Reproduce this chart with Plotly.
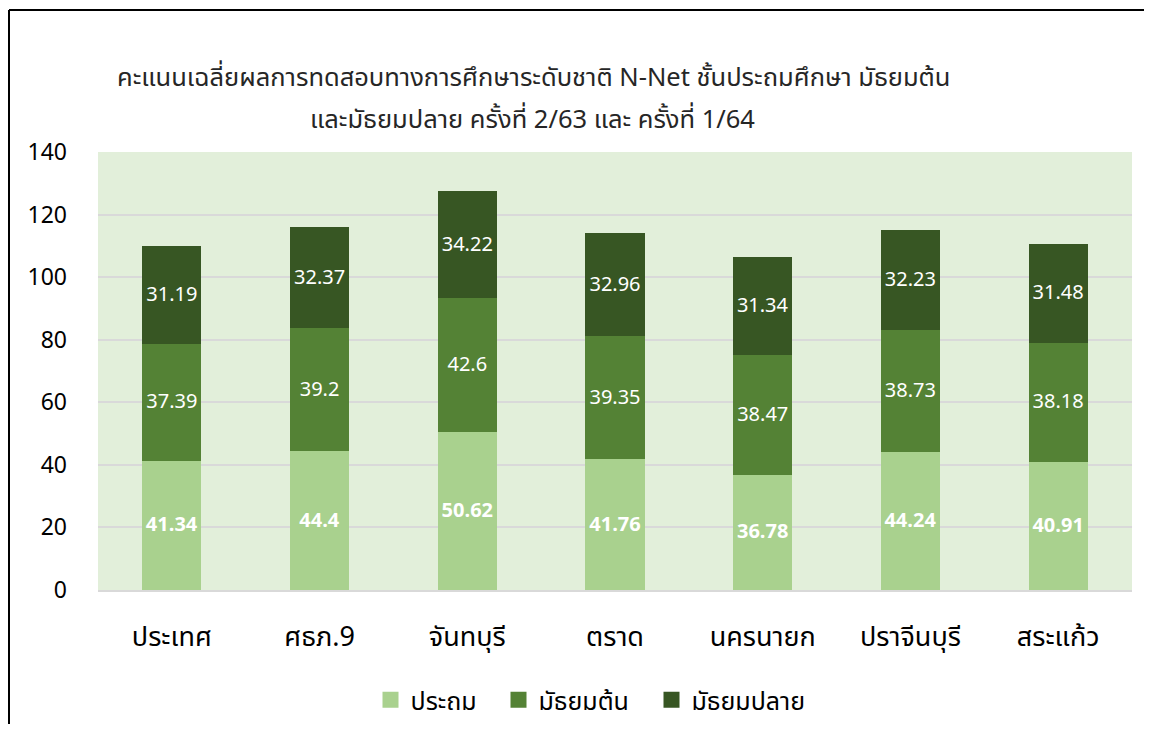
import plotly.graph_objects as go

categories = ["ประเทศ", "ศธภ.9", "จันทบุรี", "ตราด", "นครนายก", "ปราจีนบุรี", "สระแก้ว"]
primary = [41.34, 44.4, 50.62, 41.76, 36.78, 44.24, 40.91]
lower_sec = [37.39, 39.2, 42.6, 39.35, 38.47, 38.73, 38.18]
upper_sec = [31.19, 32.37, 34.22, 32.96, 31.34, 32.23, 31.48]
series_names = ["ประถม", "มัธยมต้น", "มัธยมปลาย"]
colors = ["#a9d18e", "#548235", "#375623"]
title_line1 = "คะแนนเฉลี่ยผลการทดสอบทางการศึกษาระดับชาติ N-Net ชั้นประถมศึกษา มัธยมต้น"
title_line2 = "และมัธยมปลาย ครั้งที่ 2/63 และ ครั้งที่ 1/64"

FONT = "Noto Sans Thai, Tahoma, Noto Sans, sans-serif"

OFF = 8  # page body margin
W, H = 1153 - 2 * OFF, 738 - 2 * OFF - 6
# plot area in page pixels
PL, PT, PR, PB = 98, 152, 1132, 590
PW, PH = PR - PL, PB - PT

def px(x):
    return (x - PL) / PW

def py(y):
    return (PB - y) / PH

def cy(y):
    return 1 - (y - OFF) / H

fig = go.Figure()
for name, vals, col, bold in zip(series_names, [primary, lower_sec, upper_sec], colors, [True, False, False]):
    fig.add_trace(go.Bar(
        x=categories, y=vals, name=name, marker_color=col,
        marker_line_width=0, showlegend=False,
        text=vals,
        texttemplate="<b>%{y}</b>" if bold else "%{y}",
        textposition="inside", insidetextanchor="middle",
        textfont=dict(color="white", size=20, family=FONT),
        textangle=0,
    ))
# legend swatches, one legend per entry for exact placement
legend_ids = ["legend", "legend2", "legend3"]
legend_left = [381, 509, 662]
for name, col, lid in zip(series_names, colors, legend_ids):
    fig.add_trace(go.Scatter(
        x=[None], y=[None], mode="markers", name=name, legend=lid,
        marker=dict(symbol="square", size=19, color=col),
    ))

legend_common = dict(orientation="h", yanchor="middle", xanchor="left", yref="container",
                     font=dict(size=25, color="#000000", family=FONT),
                     bgcolor="rgba(0,0,0,0)")
fig.update_layout(
    barmode="stack", bargap=0.6,
    width=W, height=H,
    margin=dict(l=PL - OFF, r=W - (PR - OFF), t=PT - OFF, b=H - (PB - OFF)),
    paper_bgcolor="white", plot_bgcolor="#e2efda",
    font=dict(family=FONT, color="#000000", size=22),
    showlegend=True,
    legend=dict(x=px(legend_left[0] - 10.5), y=cy(700), **legend_common),
    legend2=dict(x=px(legend_left[1] - 10.5), y=cy(700), **legend_common),
    legend3=dict(x=px(legend_left[2] - 10.5), y=cy(700), **legend_common),
    uniformtext=dict(minsize=10, mode="show"),
)
fig.add_annotation(text=title_line1, xref="paper", yref="paper", x=px(533), y=py(78),
                   xanchor="center", yanchor="middle", showarrow=False,
                   font=dict(size=25.5, color="#262626", family=FONT))
fig.add_annotation(text=title_line2, xref="paper", yref="paper", x=px(532), y=py(120),
                   xanchor="center", yanchor="middle", showarrow=False,
                   font=dict(size=25.5, color="#262626", family=FONT))

fig.update_yaxes(range=[0, 140], dtick=20, showgrid=True, gridcolor="#d9d9d9", gridwidth=2,
                 zeroline=False, ticks="", ticklabelstandoff=30,
                 tickfont=dict(size=23, color="#000000"), showline=False)
fig.update_xaxes(showline=True, linecolor="#d9d9d9", linewidth=2, ticks="",
                 tickfont=dict(size=27, color="#000000"), ticklabelstandoff=22)

# outer frame lines (left and top)
fig.add_shape(type="line", xref="paper", yref="paper",
              x0=px(9), x1=px(1144), y0=py(10), y1=py(10),
              line=dict(color="black", width=2))
fig.add_shape(type="line", xref="paper", yref="paper",
              x0=px(9), x1=px(9), y0=py(10), y1=py(745),
              line=dict(color="black", width=2))

fig.write_html("out.html")
